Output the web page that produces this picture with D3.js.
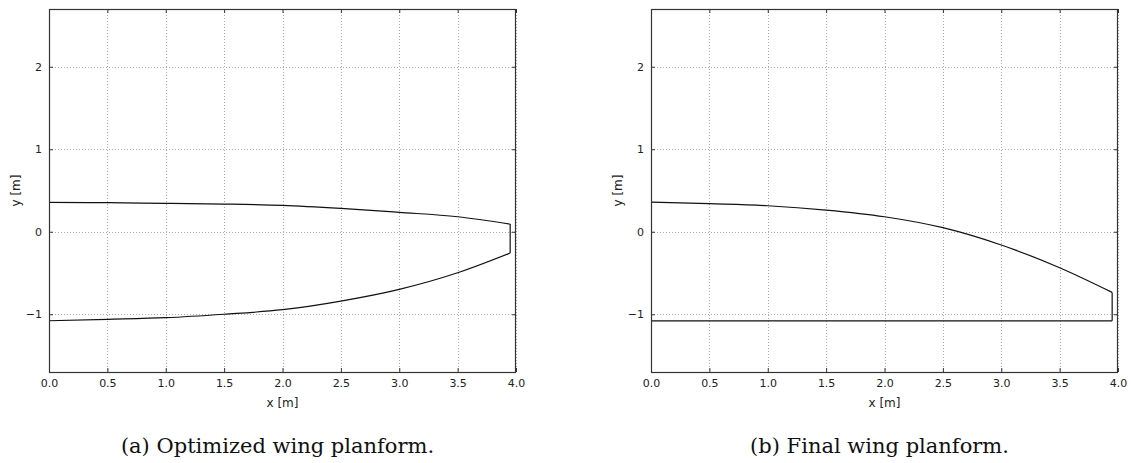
<!DOCTYPE html>
<html>
<head>
<meta charset="utf-8">
<script src="https://cdn.jsdelivr.net/npm/d3@7"></script>
<style>
  body { margin: 0; background: #fff; }
  svg { display: block; }
</style>
</head>
<body>
<svg id="chart" width="1131" height="463"></svg>
<script>
// Spanwise stations (x [m]) shared by both planforms
const xStations = [0, 0.5, 1.0, 1.5, 2.0, 2.5, 3.0, 3.5, 3.95];

// (a) Optimized wing planform
const optLeading = [0.356, 0.352, 0.344, 0.336, 0.32, 0.283, 0.235, 0.182, 0.093];
const optTrailing = [-1.079, -1.062, -1.042, -1.0, -0.945, -0.84, -0.698, -0.497, -0.258];

// (b) Final wing planform
const finLeading = [0.36, 0.34, 0.315, 0.263, 0.182, 0.049, -0.161, -0.436, -0.735];
const finTrailing = [-1.08, -1.08, -1.08, -1.08, -1.08, -1.08, -1.08, -1.08, -1.08];

const xTicks = [0, 0.5, 1.0, 1.5, 2.0, 2.5, 3.0, 3.5, 4.0];
const yTicks = [-1, 0, 1, 2];
const captions = ["(a) Optimized wing planform.", "(b) Final wing planform."];

const panels = [
  { left: 49, leading: optLeading, trailing: optTrailing, caption: captions[0] },
  { left: 651, leading: finLeading, trailing: finTrailing, caption: captions[1] },
];

const svg = d3.select("#chart");
const plotTop = 9, plotW = 467, plotH = 363;

panels.forEach((p) => {
  const x = d3.scaleLinear().domain([0, 4]).range([p.left, p.left + plotW]);
  const y = d3.scaleLinear().domain([-1.7, 2.7]).range([plotTop + plotH, plotTop]);
  const g = svg.append("g");

  // dotted grid
  g.append("g")
    .selectAll("line")
    .data(xTicks)
    .join("line")
    .attr("x1", (d) => Math.round(x(d)) + 0.5)
    .attr("x2", (d) => Math.round(x(d)) + 0.5)
    .attr("y1", plotTop)
    .attr("y2", plotTop + plotH)
    .attr("stroke", "#aaa")
    .attr("stroke-width", 1)
    .attr("stroke-dasharray", "1,2");
  g.append("g")
    .selectAll("line")
    .data(yTicks)
    .join("line")
    .attr("y1", (d) => Math.round(y(d)) + 0.5)
    .attr("y2", (d) => Math.round(y(d)) + 0.5)
    .attr("x1", p.left)
    .attr("x2", p.left + plotW)
    .attr("stroke", "#aaa")
    .attr("stroke-width", 1)
    .attr("stroke-dasharray", "1,2");

  // planform outline: leading edge, tip chord, trailing edge
  const n = xStations.length;
  const le = xStations.map((xv, i) => [xv, p.leading[i]]);
  const te = xStations.map((xv, i) => [xv, p.trailing[i]]);
  const line = d3.line().x((d) => x(d[0])).y((d) => y(d[1])).curve(d3.curveMonotoneX);
  [le, te].forEach((pts) => {
    g.append("path")
      .attr("d", line(pts))
      .attr("fill", "none")
      .attr("stroke", "#111")
      .attr("stroke-width", 1.2);
  });
  g.append("line")
    .attr("x1", x(xStations[n - 1]))
    .attr("x2", x(xStations[n - 1]))
    .attr("y1", y(p.leading[n - 1]))
    .attr("y2", y(p.trailing[n - 1]))
    .attr("stroke", "#111")
    .attr("stroke-width", 1.2);

  // axes with inward ticks on all sides
  const font = "'DejaVu Sans', sans-serif";
  const bottom = g.append("g")
    .attr("transform", `translate(0,${plotTop + plotH})`)
    .call(d3.axisBottom(x).tickValues(xTicks).tickFormat(d3.format(".1f")).tickSizeInner(-4).tickSizeOuter(0).tickPadding(7));
  const topAx = g.append("g")
    .attr("transform", `translate(0,${plotTop})`)
    .call(d3.axisTop(x).tickValues(xTicks).tickFormat("").tickSizeInner(-4).tickSizeOuter(0));
  const leftAx = g.append("g")
    .attr("transform", `translate(${p.left},0)`)
    .call(d3.axisLeft(y).tickValues(yTicks).tickFormat((d) => (d < 0 ? "\u2212" + Math.abs(d) : d)).tickSizeInner(-4).tickSizeOuter(0).tickPadding(7));
  const rightAx = g.append("g")
    .attr("transform", `translate(${p.left + plotW},0)`)
    .call(d3.axisRight(y).tickValues(yTicks).tickFormat("").tickSizeInner(-4).tickSizeOuter(0));
  [bottom, topAx, leftAx, rightAx].forEach((a) => {
    a.select(".domain").remove();
    a.selectAll(".tick line").attr("stroke", "#333");
    a.selectAll("text").attr("font-family", font).attr("font-size", 11).attr("fill", "#222");
  });

  // frame
  g.append("rect")
    .attr("x", p.left + 0.5)
    .attr("y", plotTop + 0.5)
    .attr("width", plotW - 1)
    .attr("height", plotH)
    .attr("fill", "none")
    .attr("stroke", "#333")
    .attr("stroke-width", 1.2);

  // axis labels
  g.append("text")
    .attr("x", p.left + plotW / 2)
    .attr("y", 407)
    .attr("text-anchor", "middle")
    .attr("font-family", font)
    .attr("font-size", 12)
    .attr("fill", "#222")
    .text("x [m]");
  g.append("text")
    .attr("transform", `translate(${p.left - 29},${plotTop + plotH / 2}) rotate(-90)`)
    .attr("text-anchor", "middle")
    .attr("font-family", font)
    .attr("font-size", 12)
    .attr("fill", "#222")
    .text("y [m]");

  // caption
  g.append("text")
    .attr("x", p.left + plotW / 2 - 5)
    .attr("y", 453)
    .attr("text-anchor", "middle")
    .attr("font-family", "'DejaVu Serif', 'Liberation Serif', serif")
    .attr("font-size", 21)
    .attr("fill", "#111")
    .text(p.caption);
});
</script>
</body>
</html>
